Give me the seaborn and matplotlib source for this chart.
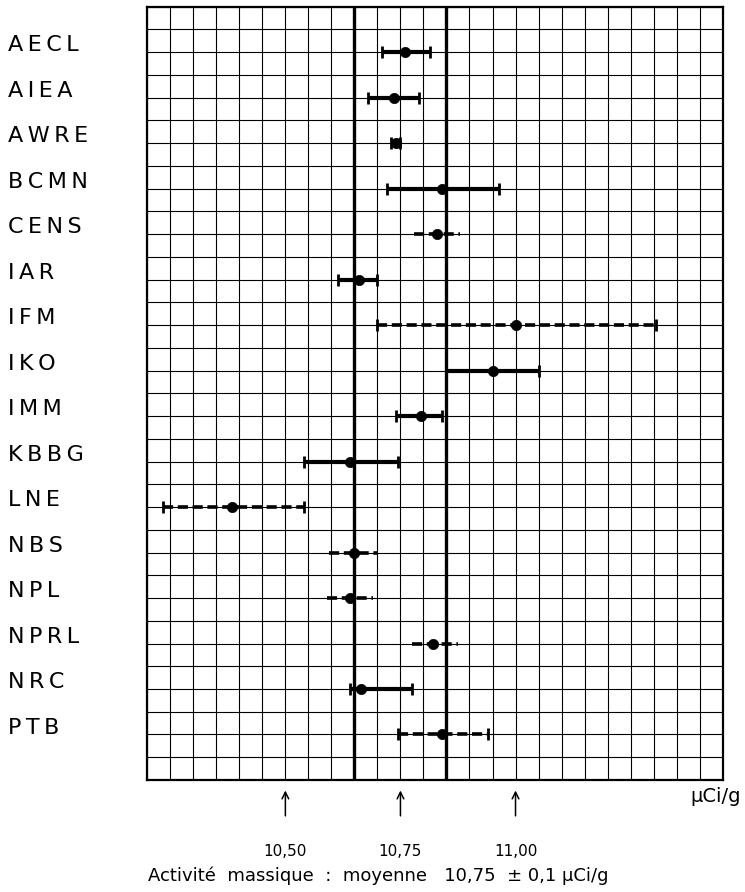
import numpy as np
import pandas as pd
import matplotlib
matplotlib.use("Agg")
import matplotlib.pyplot as plt
import matplotlib.transforms as mtransforms
import seaborn as sns

# ---- data ----
labs = ["AECL", "AIEA", "AWRE", "BCMN", "CENS", "IAR", "IFM", "IKO",
        "IMM", "KBBG", "LNE", "NBS", "NPL", "NPRL", "NRC", "PTB"]
value = [10.76, 10.735, 10.74, 10.84, 10.83, 10.66, 11.00, 10.95,
         10.795, 10.64, 10.385, 10.65, 10.64, 10.82, 10.665, 10.84]
low = [10.71, 10.68, 10.73, 10.72, 10.78, 10.615, 10.70, 10.85,
       10.74, 10.54, 10.235, 10.595, 10.59, 10.775, 10.64, 10.745]
high = [10.815, 10.79, 10.75, 10.965, 10.88, 10.70, 11.305, 11.05,
        10.84, 10.745, 10.54, 10.70, 10.69, 10.875, 10.775, 10.94]
dashed_labs = ["CENS", "IFM", "LNE", "NBS", "NPL", "NPRL", "PTB"]
nocap_labs = ["CENS", "NBS", "NPL", "NPRL"]
mean_value = 10.75
mean_band = 0.1
arrow_ticks = [10.50, 10.75, 11.00]
arrow_labels = ["10,50", "10,75", "11,00"]
unit_label = "μCi/g"
title = "Activité  massique  :  moyenne   10,75  ± 0,1 μCi/g"

df = pd.DataFrame({"lab": labs, "value": value, "low": low, "high": high})
df["row"] = 2 * (np.arange(len(labs)) + 1)
df["dashed"] = df["lab"].isin(dashed_labs)

sns.set_theme(style="white")
plt.rcParams["font.family"] = ["DejaVu Sans"]

fig = plt.figure(figsize=(7.45, 8.92), dpi=100)
ax = fig.add_axes([0.1977, 0.1256, 0.7723, 0.8669])

x0, x1 = 10.20, 11.45
ax.set_xlim(x0, x1)
ax.set_ylim(34, 0)

# graph-paper grid
for xv in np.arange(x0, x1 + 1e-9, 0.05):
    ax.axvline(xv, color="black", lw=0.8, zorder=1)
for yv in range(0, 35):
    ax.axhline(yv, color="black", lw=0.8, zorder=1)
ax.set_xticks([])
ax.set_yticks([])
for s in ax.spines.values():
    s.set_linewidth(1.6)
    s.set_color("black")

# mean +/- band lines
for xv in (mean_value - mean_band, mean_value + mean_band):
    ax.axvline(xv, color="black", lw=2.4, zorder=2)

# error bars
for _, r in df.iterrows():
    cap = 0 if r["lab"] in nocap_labs else 4.5
    cont = ax.errorbar(r["value"], r["row"],
                       xerr=[[r["value"] - r["low"]], [r["high"] - r["value"]]],
                       fmt="none", ecolor="black",
                       elinewidth=3.0 if not r["dashed"] else 2.6,
                       capsize=cap, capthick=2.0, zorder=3)
    if r["dashed"]:
        for lc in cont.lines[2]:
            lc.set_linestyle((0, (2.8, 1.3)))

sns.scatterplot(data=df, x="value", y="row", color="black", s=55,
                edgecolor="black", linewidth=0.5, ax=ax, zorder=4, legend=False)
ax.set_xlabel("")
ax.set_ylabel("")

# lab labels on the left (letter-spaced like the original)
tr = mtransforms.blended_transform_factory(fig.transFigure, ax.transData)
for _, r in df.iterrows():
    spaced = "\u2009".join(r["lab"])
    ax.text(8 / 745, r["row"] - 0.3, spaced, transform=tr, ha="left",
            va="center", fontsize=16, color="black", clip_on=False)

# arrows and labels below the grid
trx = mtransforms.blended_transform_factory(ax.transData, ax.transAxes)
for xv, lab in zip(arrow_ticks, arrow_labels):
    ax.annotate("", xy=(xv, -0.010), xytext=(xv, -0.050),
                xycoords=trx, textcoords=trx,
                arrowprops=dict(arrowstyle="->", color="black", lw=1.1))
    ax.text(xv, -0.092, lab, transform=trx, ha="center", va="center",
            fontsize=11, color="black")

ax.text(11.49, -0.022, unit_label, transform=trx, ha="right", va="center",
        fontsize=14, color="black")
fig.text(148 / 745, 1 - 876 / 892, title, ha="left", va="center",
         fontsize=13, color="black")

fig.savefig("out.png", dpi=100, facecolor="white")
